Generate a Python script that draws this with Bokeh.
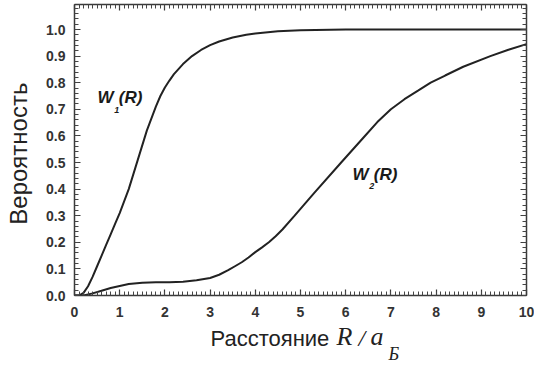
import math
from bokeh.plotting import figure
from bokeh.layouts import row, column
from bokeh.models import LinearAxis, SingleIntervalTicker, Label, Range1d, PrintfTickFormatter, CustomJSTickFormatter
from bokeh.embed import file_html
from bokeh.resources import INLINE

# --- data ---
R1 = [0.0, 0.1, 0.2, 0.3, 0.4, 0.5, 0.6, 0.7, 0.8, 0.9, 1.0, 1.2, 1.4, 1.6, 1.8, 1.9, 2.0,
      2.1, 2.2, 2.4, 2.6, 2.8, 3.0, 3.2, 3.5, 3.8, 4.0, 4.5, 5.0, 6.0, 7.0, 8.0, 9.0, 10.0]
W1 = [0.0, 0.0, 0.01, 0.035, 0.07, 0.11, 0.15, 0.19, 0.23, 0.27, 0.31, 0.40, 0.51, 0.62, 0.71, 0.75, 0.782,
      0.808, 0.832, 0.87, 0.9, 0.923, 0.941, 0.955, 0.97, 0.98, 0.985, 0.993, 0.997, 1.0, 1.0, 1.0, 1.0, 1.0]

R2 = [0.0, 0.2, 0.4, 0.6, 0.8, 1.0, 1.2, 1.5, 1.8, 2.1, 2.4, 2.7, 3.0, 3.2, 3.4, 3.55, 3.7, 3.85,
      4.0, 4.15, 4.3, 4.45, 4.6, 4.87, 5.3, 5.9, 6.4, 6.7, 7.0, 7.3, 7.6, 7.88, 8.2, 8.6, 9.2, 9.6, 10.0]
W2 = [0.0, 0.0, 0.008, 0.018, 0.028, 0.036, 0.043, 0.048, 0.05, 0.05, 0.052, 0.057, 0.066, 0.078,
      0.095, 0.11, 0.125, 0.143, 0.163, 0.181, 0.2, 0.223, 0.248, 0.3, 0.385, 0.5, 0.595, 0.652,
      0.70, 0.738, 0.77, 0.8, 0.827, 0.86, 0.9, 0.924, 0.945]

X_RANGE = (0, 10)
Y_RANGE = (0, 1.094)
X_LABEL = "Расстояние"
Y_LABEL = "Вероятность"

TOP_H = 322
XLAB_H = 46
YLAB_W = 40
MAIN_W = 494

p = figure(width=MAIN_W, height=TOP_H, x_range=Range1d(*X_RANGE), y_range=Range1d(*Y_RANGE),
           output_backend="svg", toolbar_location=None,
           x_axis_type=None, y_axis_type=None,
           min_border_left=34, min_border_right=8, min_border_top=4, min_border_bottom=27)
p.outline_line_color = None

AX_COL = "#3a3a3a"
LBL_COL = "#333333"

def style(ax, show):
    ax.major_tick_in = 6
    ax.major_tick_out = 0
    ax.minor_tick_in = 4
    ax.minor_tick_out = 0
    ax.axis_line_color = AX_COL
    ax.axis_line_width = 1.5
    ax.major_tick_line_color = AX_COL
    ax.major_tick_line_width = 1.2
    ax.minor_tick_line_color = "#444444"
    ax.minor_tick_line_width = 1
    ax.major_label_text_font = "Liberation Sans"
    ax.major_label_text_font_style = "bold"
    ax.major_label_text_font_size = "14px"
    ax.major_label_text_color = LBL_COL
    if not show:
        ax.formatter = CustomJSTickFormatter(code="return ''")
        ax.major_label_text_font_size = "0px"
        ax.major_label_standoff = 0

def xaxis(show):
    ax = LinearAxis(ticker=SingleIntervalTicker(interval=1, num_minor_ticks=10))
    style(ax, show)
    if show:
        ax.major_label_standoff = 11
    return ax

def yaxis(show):
    ax = LinearAxis(ticker=SingleIntervalTicker(interval=0.1, num_minor_ticks=5))
    style(ax, show)
    if show:
        ax.formatter = PrintfTickFormatter(format="%.1f")
        ax.major_label_standoff = 9
    return ax

p.add_layout(xaxis(True), "below")
p.add_layout(xaxis(False), "above")
p.add_layout(yaxis(True), "left")
p.add_layout(yaxis(False), "right")

LINE_COL = "#222222"
p.line(R1, W1, line_color=LINE_COL, line_width=2)
p.line(R2, W2, line_color=LINE_COL, line_width=2)

def lab(fig, x, y, text, **kw):
    opts = dict(text_font="Liberation Sans", text_color="#1a1a1a")
    opts.update(kw)
    fig.add_layout(Label(x=x, y=y, text=text, **opts))

# curve labels
for (x0, y0, sub) in [(0.51, 0.707, "1"), (6.15, 0.421, "2")]:
    lab(p, x0, y0, "W", text_font_size="17px", text_font_style="bold italic")
    lab(p, x0 + 0.37, y0 - 0.022, sub, text_font_size="9px", text_font_style="bold italic")
    lab(p, x0 + 0.47, y0, "(R)", text_font_size="17px", text_font_style="bold italic")

def blank(w, h):
    f = figure(width=w, height=h, x_range=Range1d(0, w), y_range=Range1d(0, h),
               output_backend="svg", toolbar_location=None,
               x_axis_type=None, y_axis_type=None,
               min_border=0)
    f.outline_line_color = None
    return f

ylab = blank(YLAB_W, TOP_H)
lab(ylab, 18, TOP_H - 165, Y_LABEL, text_font_size="24px", angle=math.pi / 2,
    text_align="center", text_baseline="middle", text_color="#222222")

xlab = blank(YLAB_W + MAIN_W, XLAB_H)
base = XLAB_H - 28
lab(xlab, 210, base, X_LABEL, text_font_size="22px", text_color="#222222")
lab(xlab, 336, base, "R", text_font="Liberation Serif", text_font_size="26px",
    text_font_style="italic", text_color="#222222")
lab(xlab, 358, base, "/", text_font="Liberation Serif", text_font_size="24px",
    text_font_style="italic", text_color="#222222")
lab(xlab, 370, base, "a", text_font="Liberation Serif", text_font_size="26px",
    text_font_style="italic", text_color="#222222")
lab(xlab, 388, base - 13, "Б", text_font="Liberation Serif", text_font_size="18px",
    text_font_style="italic", text_color="#222222")

layout = column(row(ylab, p), xlab)
open("out.html", "w").write(file_html(layout, INLINE))
